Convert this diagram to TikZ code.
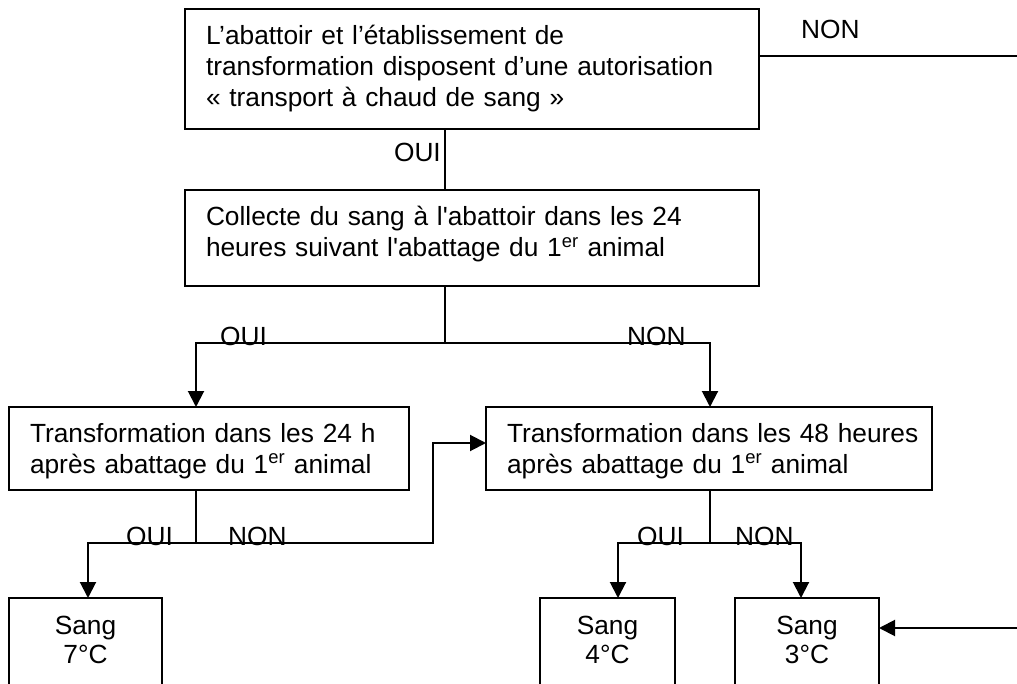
\documentclass[tikz,border=0pt]{standalone}
\usepackage{fontspec}
\newfontfamily\arial{Liberation Sans}
\usetikzlibrary{arrows.meta}
\newcommand\diagfont{\arial\fontsize{26.3}{31}\selectfont}
\begin{document}
\begin{tikzpicture}[x=1pt,y=-1pt,
  box/.style={draw, line width=2pt, rectangle, inner xsep=21pt, inner ysep=0pt, outer sep=0pt, align=left, font=\diagfont},
  sbox/.style={draw, line width=2pt, rectangle, inner sep=0pt, outer sep=0pt, minimum height=200pt},
  txt/.style={inner sep=0pt, align=center, font=\diagfont},
  lbl/.style={inner sep=0pt, font=\diagfont},
  conn/.style={line width=1.5pt},
  arr/.style={line width=2pt, -{Triangle[length=16pt,width=16pt]}}]
\useasboundingbox (0,0) rectangle (1017,684);
\clip (0,0) rectangle (1017,684);
\fill[white] (0,0) rectangle (1017,684);

% boxes
\node[box, text width=532pt, minimum width=574pt, minimum height=120pt] (b1) at (472,69)
  {L’abattoir et l’établissement de\\transformation disposent d’une autorisation\\« transport à chaud de sang »};
\node[box, text width=532pt, minimum width=574pt, minimum height=96pt] (b2) at (472,238)
  {Collecte du sang à l'abattoir dans les 24\\heures suivant l'abattage du 1\textsuperscript{er} animal\rule[-14pt]{0pt}{14pt}};
\node[box, text width=358pt, minimum width=400pt, minimum height=83pt] (b3) at (209,448.5)
  {\rule{0pt}{23.5pt}\mbox{Transformation dans les 24 h}\\après abattage du 1\textsuperscript{er} animal};
\node[box, text width=404pt, minimum width=446pt, minimum height=83pt] (b4) at (709,448.5)
  {\rule{0pt}{23.5pt}\mbox{Transformation dans les 48 heures}\\après abattage du 1\textsuperscript{er} animal};

\node[sbox, minimum width=153pt] (s7) at (85.5,698) {};
\node[txt] (s7t) at (85.5,640) {Sang\\[-2pt]7°C};
\node[sbox, minimum width=135pt] (s4) at (607.5,698) {};
\node[txt] (s4t) at (607.5,640) {Sang\\[-2pt]4°C};
\node[sbox, minimum width=144pt] (s3) at (807,698) {};
\node[txt] (s3t) at (807,640) {Sang\\[-2pt]3°C};

% junction points
\coordinate (j1) at (445,343);
\coordinate (j2) at (196,543);
\coordinate (j3) at (710,543);
\coordinate (a7) at (88,543);
\coordinate (k) at (433,443);
\coordinate (a4) at (618,543);
\coordinate (a3) at (801,543);
\coordinate (nonEnd) at (1017,56);
\coordinate (inEnd) at (1017,628);

% connectors
\draw[conn] (b1.south -| j1) -- (b2.north -| j1);
\draw[conn] (b2.south -| j1) -- (j1);
\draw[arr] (j1) -| (b3.north -| j2);
\draw[arr] (j1) -| (b4.north -| j3);
\draw[conn] (b3.south -| j2) -- (j2);
\draw[arr] (j2) -- (a7) -- (s7.north -| a7);
\draw[arr] (j2) -- (j2 -| k) -- (k) -- (b4.west |- k);
\draw[conn] (b4.south -| j3) -- (j3);
\draw[arr] (j3) -- (a4) -- (s4.north -| a4);
\draw[arr] (j3) -- (a3) -- (s3.north -| a3);
\draw[conn] (b1.east |- nonEnd) -- (nonEnd);
\draw[arr] (inEnd) -- (s3.east |- inEnd);

% labels
\node[lbl, anchor=base east] (l1) at (441,162) {OUI};
\node[lbl, anchor=base west] (l2) at (801,39) {NON};
\node[lbl, anchor=base west] (l3) at (220,345) {OUI};
\node[lbl, anchor=base west] (l4) at (627,345) {NON};
\node[lbl, anchor=base west] (l5) at (126,545) {OUI};
\node[lbl, anchor=base west] (l6) at (228,545) {NON};
\node[lbl, anchor=base west] (l7) at (637,545) {OUI};
\node[lbl, anchor=base west] (l8) at (735,545) {NON};
\end{tikzpicture}
\end{document}
